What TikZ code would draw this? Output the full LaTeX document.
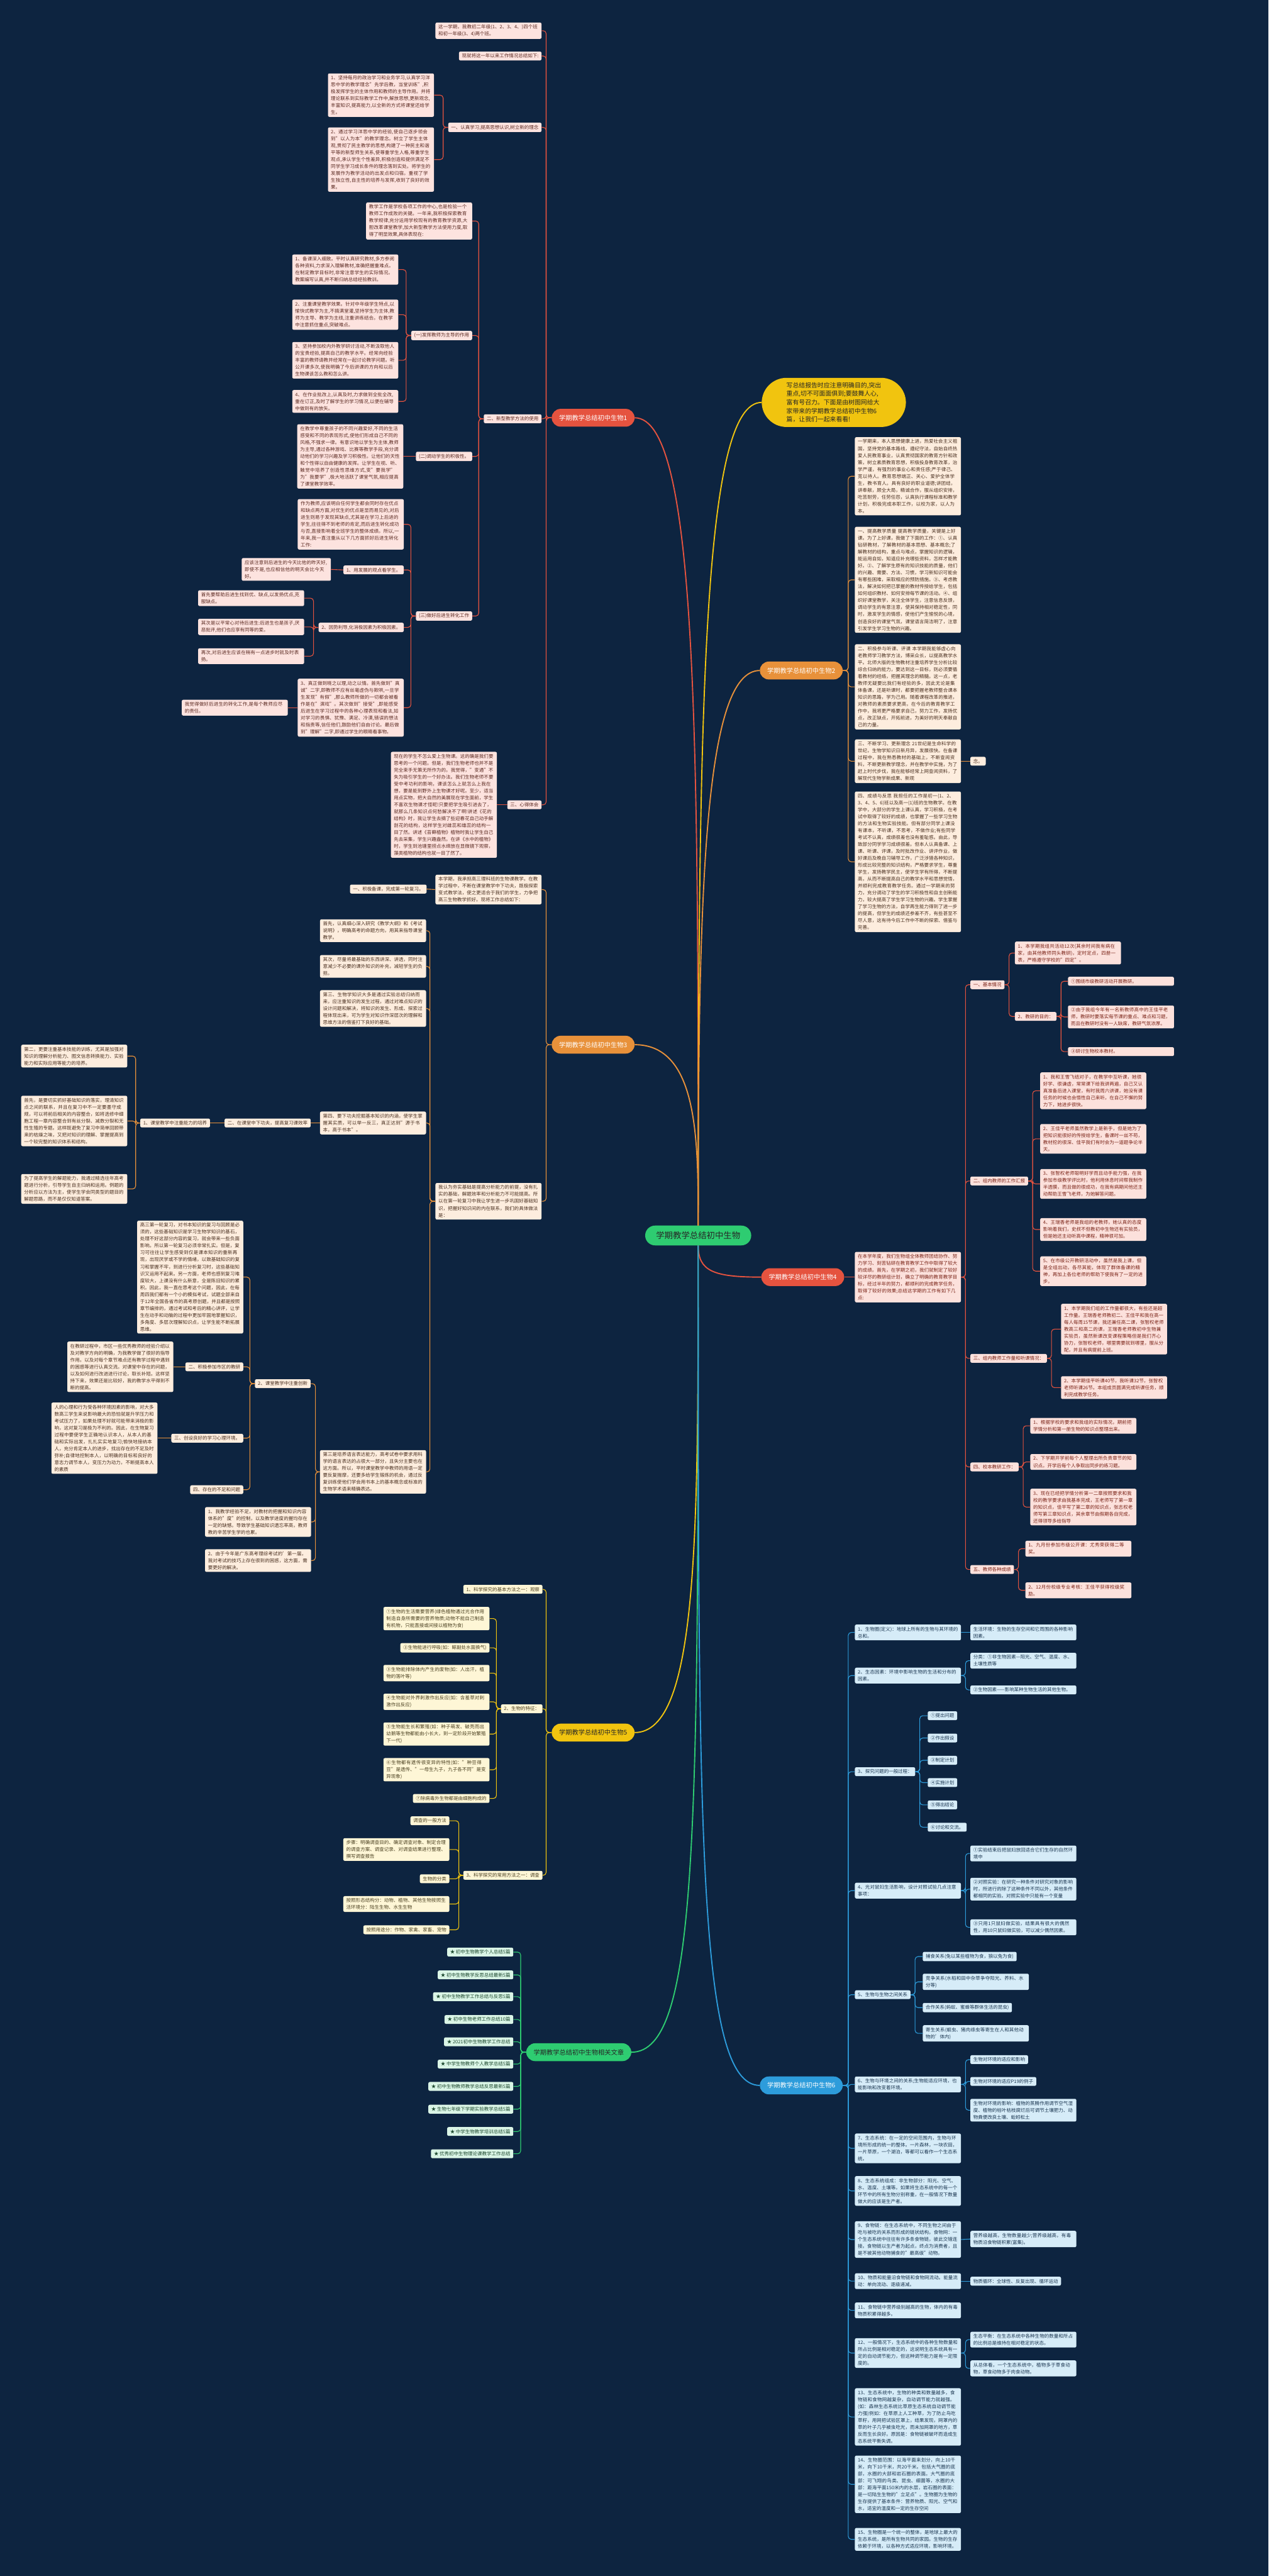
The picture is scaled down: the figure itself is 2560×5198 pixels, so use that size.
\documentclass[tikz,border=0pt]{standalone}
\usepackage{fontspec}
\setmainfont{Noto Sans CJK SC}
\XeTeXlinebreaklocale "zh"
\XeTeXlinebreakskip = 0pt plus 1pt
\definecolor{bg}{HTML}{0D2440}
\definecolor{cRed}{HTML}{E5533F}
\definecolor{cOra}{HTML}{E8913A}
\definecolor{cYel}{HTML}{F1C40F}
\definecolor{cBlu}{HTML}{2D9CDB}
\definecolor{cGrn}{HTML}{2ECC71}
\definecolor{fA}{HTML}{FDE3DF}\definecolor{tA}{HTML}{5B2A22}
\definecolor{fB}{HTML}{FDEDDE}\definecolor{tB}{HTML}{4A3020}
\definecolor{fC}{HTML}{FCE1DC}\definecolor{tC}{HTML}{7B2418}
\definecolor{fD}{HTML}{FEF6D6}\definecolor{tD}{HTML}{4A4020}
\definecolor{fE}{HTML}{D6ECF8}\definecolor{tE}{HTML}{1A3550}
\definecolor{fF}{HTML}{DAF5E6}\definecolor{tF}{HTML}{1E4A30}
\newcommand\myfs{\fontsize{9.5pt}{14pt}\selectfont}
\newcommand\pillfs{\fontsize{13pt}{16pt}\selectfont}
\newcommand\cenfs{\fontsize{17pt}{20pt}\selectfont}
\newcommand\intfs{\fontsize{12.5pt}{17.3pt}\selectfont}
\tikzset{
 nd/.style={rounded corners=3pt, inner xsep=6pt, inner ysep=4.5pt, font=\myfs, align=left},
 w/.style={text width=202pt},
 A/.style={nd, fill=fA, text=tA},
 B/.style={nd, fill=fB, text=tB},
 C/.style={nd, fill=fC, text=tC},
 D/.style={nd, fill=fD, text=tD},
 E/.style={nd, fill=fE, text=tE},
 F/.style={nd, fill=fF, text=tF},
 pill/.style={rounded corners=18pt, minimum height=36pt, inner xsep=15pt, font=\pillfs},
 lR/.style={draw=cRed, line width=1.4pt, rounded corners=6pt},
 lO/.style={draw=cOra, line width=1.4pt, rounded corners=6pt},
 lY/.style={draw=cYel, line width=1.4pt, rounded corners=6pt},
 lB/.style={draw=cBlu, line width=1.4pt, rounded corners=6pt},
 lG/.style={draw=cGrn, line width=1.4pt, rounded corners=6pt},
}
\begin{document}
\begin{tikzpicture}[x=1pt,y=-1pt]
\fill[bg] (0,0) rectangle (2560,5198);
\useasboundingbox (0,0) rectangle (2560,5198);

% ---------- center and branch labels ----------
\node[fill=cGrn, rounded corners=20pt, minimum width=214pt, minimum height=40pt, font=\cenfs, text=black!85] (c) at (1409,2493) {学期教学总结初中生物};
\node[fill=cYel, rounded corners=50pt, inner xsep=50pt, inner ysep=9pt, font=\intfs, text=black!85, align=left, anchor=west] (intro) at (1537,812)
 {写总结报告时应注意明确目的,突出\\重点,切不可面面俱到;要鼓舞人心,\\富有号召力。下面是由树图网给大\\家带来的学期教学总结初中生物6\\篇，让我们一起来看看!};
\node[pill, fill=cRed, text=white] (b1) at (1197,843) {学期教学总结初中生物1};
\node[pill, fill=cOra, text=white] (b2) at (1617,1353) {学期教学总结初中生物2};
\node[pill, fill=cOra, text=white] (b3) at (1197,2108) {学期教学总结初中生物3};
\node[pill, fill=cRed, text=white] (b4) at (1620,2577) {学期教学总结初中生物4};
\node[pill, fill=cYel, text=black!85] (b5) at (1197,3496) {学期教学总结初中生物5};
\node[pill, fill=cBlu, text=white] (b6) at (1617,4208) {学期教学总结初中生物6};
\node[pill, fill=cGrn, text=black!85] (b7) at (1168,4141) {学期教学总结初中生物相关文章};

\draw[cRed, line width=2.4pt] (c.north) .. controls (1409,1500) and (1409,843) .. (b1.east);
\draw[cYel, line width=2.4pt] (c.north) .. controls (1409,1400) and (1420,812) .. (intro.west);
\draw[cOra, line width=2.4pt] (c.north) .. controls (1409,1800) and (1420,1353) .. (b2.west);
\draw[cOra, line width=2.4pt] (c.north) .. controls (1409,2300) and (1409,2108) .. (b3.east);
\draw[cRed, line width=2.4pt] (c.south) .. controls (1409,2565) and (1440,2577) .. (b4.west);
\draw[cYel, line width=2.4pt] (c.south) .. controls (1409,3100) and (1409,3496) .. (b5.east);
\draw[cGrn, line width=2.4pt] (c.south) .. controls (1409,3700) and (1409,4141) .. (b7.east);
\draw[cBlu, line width=2.4pt] (c.south) .. controls (1409,3700) and (1409,4208) .. (b6.west);

% ---------- branch 1 ----------
\node[A,w,anchor=east] (a1) at (1093,62) {这一学期，我教初二年级(1、2、3、4、)四个班和初一年级(3、4)两个班。};
\node[A,anchor=east] (a2) at (1093,113) {现就将这一年以来工作情况总结如下:};
\node[A,anchor=east] (a3) at (1093,257) {一、认真学习,提高思想认识,树立新的理念};
\node[A,anchor=east] (a4) at (1093,845) {二、新型教学方法的使用};
\node[A,anchor=east] (a5) at (1093,1624) {三、心得体会};
\foreach \n in {a1,a2,a3,a4,a5} \draw[lR] (b1.west) -- ++(-11,0) |- (\n.east);

\node[A,w,anchor=east] (a31) at (876,192) {1、坚持每月的政治学习和业务学习,认真学习洋思中学的教学理念"先学后教，当堂训练",积极发挥学生的主体作用和教师的主导作用。并将理论联系到实际教学工作中,解放思想,更新观念,丰富知识,提高能力,以全新的方式将课堂还给学生。};
\node[A,w,anchor=east] (a32) at (876,322) {2、通过学习洋思中学的经验,使自己逐步领会到"以人为本"的教学理念。树立了学生主体观,贯彻了民主教学的思想,构建了一种民主和谐平等的新型师生关系,使尊重学生人格,尊重学生观点,承认学生个性差异,积极创造和提供满足不同学生学习成长条件的理念落到实处。将学生的发展作为教学活动的出发点和归宿。重视了学生独立性,自主性的培养与发挥,收到了良好的效果。};
\foreach \n in {a31,a32} \draw[lR] (a3.west) -- ++(-10,0) |- (\n.east);

\node[A,w,anchor=east] (a41) at (953,446) {教学工作是学校各项工作的中心,也是检验一个教师工作成败的关键。一年来,我积极探索教育教学规律,充分运用学校现有的教育教学资源,大胆改革课堂教学,加大新型教学方法使用力度,取得了明显效果,具体表现在:};
\node[A,anchor=east] (a42) at (953,677) {(一)发挥教师为主导的作用};
\node[A,anchor=east] (a43) at (953,921) {(二)调动学生的积极性。};
\node[A,anchor=east] (a44) at (953,1243) {(三)做好后进生转化工作};
\foreach \n in {a41,a42,a43,a44} \draw[lR] (a4.west) -- ++(-10,0) |- (\n.east);

\node[A,w,anchor=east] (a421) at (804,544) {1、备课深入细致。平时认真研究教材,多方参阅各种资料,力求深入理解教材,准确把握重难点。在制定教学目标时,非常注意学生的实际情况。教案编写认真,并不断归纳总结经验教训。};
\node[A,w,anchor=east] (a422) at (804,635) {2、注重课堂教学效果。针对中年级学生特点,以愉快式教学为主,不搞满堂灌,坚持学生为主体,教师为主导、教学为主线,注重讲练结合。在教学中注意抓住重点,突破难点。};
\node[A,w,anchor=east] (a423) at (804,727) {3、坚持参加校内外教学研讨活动,不断汲取他人的宝贵经验,提高自己的教学水平。经常向经验丰富的教师请教并经常在一起讨论教学问题。听公开课多次,使我明确了今后讲课的方向和以后生物课该怎么教和怎么讲。};
\node[A,w,anchor=east] (a424) at (804,810) {4、在作业批改上,认真及时,力求做到全批全改,重在订正,及时了解学生的学习情况,以便在辅导中做到有的放矢。};
\foreach \n in {a421,a422,a423,a424} \draw[lR] (a42.west) -- ++(-10,0) |- (\n.east);

\node[A,w,anchor=east] (a431) at (814,921) {在教学中尊重孩子的不同兴趣爱好,不同的生活感受和不同的表现形式,使他们形成自己不同的风格,不强求一律。有意识地以学生为主体,教师为主导,通过各种游戏、比赛等教学手段,充分调动他们的学习兴趣及学习积极性。让他们的天性和个性得以自由健康的发挥。让学生在视、听、触觉中培养了创造性思维方式,变"要我学"为"我要学",极大地活跃了课堂气氛,相应提高了课堂教学效率。};
\draw[lR] (a43.west) -- (a431.east);

\node[A,w,anchor=east] (a441) at (815,1058) {作为教师,应该明白任何学生都会同时存在优点和缺点两方面,对优生的优点是显而易见的,对后进生则易于发现其缺点,尤其是在学习上后进的学生,往往得不到老师的肯定,而后进生转化成功与否,直接影响着全班学生的整体成绩。所以,一年来,我一直注重从以下几方面抓好后进生转化工作:};
\node[A,anchor=east] (a442) at (815,1150) {1、用发展的观点看学生。};
\node[A,anchor=east] (a443) at (815,1266) {2、因势利导,化消极因素为积极因素。};
\node[A,w,anchor=east] (a444) at (815,1428) {3、真正做到晓之以理,动之以情。首先做到"真诚"二字,即教师不应有丝毫虚伪与欺哄,一旦学生发现"有假",那么教师所做的一切都会被看作是在"演戏"。其次做到"接受",即能感受后进生在学习过程中的各种心理表现和看法,如对学习的畏惧、犹豫、满足、冷漠,错误的想法和指责等,信任他们,鼓励他们自由讨论。最后做到"理解"二字,即通过学生的眼睛看事物。};
\foreach \n in {a441,a442,a443,a444} \draw[lR] (a44.west) -- ++(-10,0) |- (\n.east);

\node[A,text width=168pt,anchor=east] (a4421) at (668,1149) {应该注意到后进生的今天比他的昨天好,即使不是,也应相信他的明天会比今天好。};
\draw[lR] (a442.west) -- (a4421.east);
\node[A,w,anchor=east] (a4431) at (614,1207) {首先要帮助后进生找到优、缺点,以发扬优点,克服缺点。};
\node[A,w,anchor=east] (a4432) at (614,1265) {其次是以平常心对待后进生:后进生也是孩子,厌恶批评,他们也应享有同等的爱。};
\node[A,w,anchor=east] (a4433) at (614,1324) {再次,对后进生应该在稍有一点进步时就及时表扬。};
\foreach \n in {a4431,a4432,a4433} \draw[lR] (a443.west) -- ++(-10,0) |- (\n.east);
\node[A,w,anchor=east] (a4441) at (581,1428) {我觉得做好后进生的转化工作,是每个教师应尽的责任。};
\draw[lR] (a444.west) -- (a4441.east);

\node[A,w,anchor=east] (a51) at (1003,1624) {现在的学生不怎么爱上生物课。这的确是我们要思考的一个问题。但是，我们生物老师也并不是完全束手无策无所作为的。我觉得，"变通"不失为吸引学生的一个好办法。我们生物老师不要受中考功利的影响，课该怎么上就怎么上我在想，要是能到野外上生物课才好呢。至少，适当用点实物，把大自然的美展现在学生面前，学生不喜欢生物课才怪呢!只要把学生吸引进去了，就那么几条知识点何愁解决不了啊!讲述《花的结构》时，我让学生去摘了些迎春花自己动手解剖花的结构，这样学生对雌蕊和雄蕊的结构一目了然。讲述《苔藓植物》植物时我让学生自己先去采集，学生兴趣盎然。在讲《水中的植物》时，学生到池塘里捞点水绵放在显微镜下观察，藻类植物的结构也就一目了然了。};
\draw[lR] (a5.west) -- (a51.east);

% ---------- branch 2 ----------
\node[B,w,anchor=west] (g1) at (1725,961) {一学期来，本人思想健康上进，热爱社会主义祖国，坚持党的基本路线，遵纪守法，自始自终热爱人民教育事业，认真贯彻国家的教育方针和政策，树立素质教育思想，积极投身教育改革，治学严谨，有强烈的事业心和责任感;严于律己、宽以待人。教育思想端正、关心、爱护全体学生，教书育人。具有良好的职业道德;讲团结，讲奉献，顾全大局，精诚合作，服从组织安排，吃苦耐劳，任劳任怨，认真执行课程标准和教学计划，积极完成本职工作，以校为家，以人为本。};
\node[B,w,anchor=west] (g2) at (1725,1170) {一、提高教学质量 提高教学质量，关键是上好课。为了上好课，我做了下面的工作：①、认真钻研教材，了解教材的基本思想、基本概念;了解教材的结构，重点与难点，掌握知识的逻辑，能运用自如，知道应补充哪些资料，怎样才能教好。②、了解学生原有的知识技能的质量，他们的兴趣、需要、方法、习惯，学习新知识可能会有哪些困难，采取相应的预防措施。③、考虑教法，解决如何把已掌握的教材传授给学生，包括如何组织教材、如何安排每节课的活动。④、组织好课堂教学，关注全体学生，注意信息反馈，调动学生的有意注意，使其保持相对稳定性，同时，激发学生的情感，使他们产生愉悦的心境，创造良好的课堂气氛，课堂语言简洁明了，注意引发学生学习生物的兴趣。};
\node[B,w,anchor=west] (g3) at (1725,1386) {二、积极参与听课、评课 本学期我能够虚心向老教师学习教学方法，博采众长，以提高教学水平。北师大版的生物教材注重培养学生分析比较综合归纳的能力，要达到这一目标，则必须要循着教材的经络，把握其理念的精髓。这一点，老教师无疑要比我们有经验的多，因此无论是集体备课，还是听课时，都要把握老教师整合课本知识的思路，学为己用。随着课程改革的推进，对教师的素质要求更高，在今后的教育教学工作中，我将更严格要求自己，努力工作，发扬优点，改正缺点，开拓前进，为美好的明天奉献自己的力量。};
\node[B,w,anchor=west] (g4) at (1725,1536) {三、不断学习、更新理念 21世纪是生命科学的世纪，生物学知识日新月异，发展很快。在备课过程中，我在熟悉教材的基础上，不断查阅资料，不断更新教学理念，并在教学中实施，为了赶上时代步伐，我在能够经常上网查阅资料，了解现代生物学新成果、新观};
\node[B,w,anchor=west] (g5) at (1725,1739) {四、成绩与反思 我担任的工作是初一(1、2、3、4、5、6)班以及高一(1)班的生物教学。在教学中，大部分的学生上课认真，学习积极，在考试中取得了较好的成绩，也掌握了一些学习生物的方法和生物实验技能。但有部分同学上课没有课本，不听课，不思考，不做作业;有些同学考试不认真，成绩很差也没有羞耻感。由此，导致部分同学学习成绩很差。但本人认真备课、上课、听课、评课，及时批改作业、讲评作业，做好课后及晚自习辅导工作，广泛涉猎各种知识，形成比较完整的知识结构，严格要求学生，尊重学生，发扬教学民主，使学生学有所得，不断提高，从而不断提高自己的教学水平和思想觉悟，并顺利完成教育教学任务。通过一学期来的努力，充分调动了学生的学习积极性和自主创新能力，较大提高了学生学习生物的兴趣。学生掌握了学习生物的方法，自学再生能力得到了进一步的提高，但学生的成绩还参差不齐，有些甚至不尽人意，这有待今后工作中不断的探索、借鉴与完善。};
\foreach \n in {g1,g2,g3,g4,g5} \draw[lO] (b2.east) -- ++(11,0) |- (\n.west);
\node[B,anchor=west] (g41) at (1958,1536) {念。};
\draw[lO] (g4.east) -- (g41.west);

% ---------- branch 3 ----------
\node[B,w,anchor=east] (h1) at (1093,1795) {本学期，我承担高三理科班的生物课教学。在教学过程中，不断在课堂教学中下功夫，既极探索变式教学法，使之更适合于我们的学生，力争把高三生物教学抓好。现将工作总结如下：};
\node[B,w,anchor=east] (h2) at (1093,2424) {我认为夯实基础是提高分析能力的前提，没有扎实的基础，解题效率和分析能力不可能提高。所以在第一轮复习中我让学生进一步巩固好基础知识，把握好知识间的内在联系，我们的具体做法是：};
\foreach \n in {h1,h2} \draw[lO] (b3.west) -- ++(-11,0) |- (\n.east);
\node[B,anchor=east] (h11) at (861,1794) {一、积极备课，完成第一轮复习。};
\draw[lO] (h1.west) -- (h11.east);

\node[B,w,anchor=east] (h21) at (860,1878) {首先，认真细心深入研究《教学大纲》和《考试说明》，明确高考的命题方向，用其来指导课堂教学。};
\node[B,w,anchor=east] (h22) at (860,1950) {其次，尽量将最基础的东西讲深、讲透，同时注意减少不必要的课外知识的补充，减轻学生的负担。};
\node[B,w,anchor=east] (h23) at (860,2035) {第三、生物学知识大多是通过实验总结归纳而来，应注重知识的发生过程，通过对难点知识的设计问题和解决，将知识的发生、形成、探索过程体现出来，可为学生对知识作深层次的理解和思维方法的借鉴打下良好的基础。};
\node[B,w,anchor=east] (h24) at (860,2266) {第四、要下功夫挖掘基本知识的内涵，使学生掌握其实质，可以举一反三，真正达到"源于书本，高于书本"。};
\node[B,w,anchor=east] (h25) at (860,2970) {第三是培养语言表达能力，高考试卷中要求用科学的语言表达的占很大一部分，且失分主要也在这方面。所以，平时课堂教学中教师的用语一定要反复揣摩，还要多给学生锻炼的机会，通过反复训练使他们学会用书本上的基本概念或标准的生物学术语来精确表达。};
\foreach \n in {h21,h22,h23,h24,h25} \draw[lO] (h2.west) -- ++(-11,0) |- (\n.east);

\node[B,anchor=east] (h241) at (627,2266) {二、在课堂中下功夫，提高复习课效率};
\draw[lO] (h24.west) -- (h241.east);
\node[B,anchor=east] (h242) at (424,2266) {1、课堂教学中注重能力的培养};
\draw[lO] (h241.west) -- (h242.east);
\node[B,w,anchor=east] (h2421) at (257,2131) {第二，更要注重基本技能的训练，尤其是加强对知识的理解分析能力、图文信息转换能力、实验能力和实际应用等能力的培养。};
\node[B,w,anchor=east] (h2422) at (257,2262) {首先，是要切实抓好基础知识的落实，理清知识点之间的联系，并且在复习中不一定要墨守成规，可以将前后相关的内容整合，如将选修中细胞工程一章内容整合到有丝分裂、减数分裂和无性生殖的专题。这样既避免了复习中简单回顾带来的枯燥之味，又把对知识的理解、掌握提高到一个较完整的知识体系和结构。};
\node[B,w,anchor=east] (h2423) at (257,2399) {为了提高学生的解题能力，我通过精选往年高考题进行分析，引导学生自主归纳和运用。例题的分析应以方法为主，使学生学会同类型的题目的解题思路，而不是仅仅知道答案。};
\foreach \n in {h2421,h2422,h2423} \draw[lO] (h242.west) -- ++(-9,0) |- (\n.east);

\node[B,anchor=east] (h251) at (627,2792) {2、课堂教学中注重创新};
\node[B,w,anchor=east] (h252) at (628,3071) {1、我教学经验不足，对教材的把握和知识内容体系的"度"的控制，以及教学进度的握均存在一定的缺憾。导致学生基础知识遗忘率高，教师教的辛苦学生学的也累。};
\node[B,w,anchor=east] (h253) at (628,3149) {2、由于今年是广东高考理综考试的'第一届，我对考试的技巧上存在很到的困惑，这方面，需要更好的解决。};
\foreach \n in {h251,h252,h253} \draw[lO] (h25.west) -- ++(-9,0) |- (\n.east);

\node[B,w,anchor=east] (h2511) at (491,2577) {高三第一轮复习，对书本知识的复习与回顾是必须的，这些基础知识是学习生物学知识的基石，处理不好这部分内容的复习，就会带来一些负面影响。所以第一轮复习必须非常扎实。但是，复习可往往让学生感受到仅是课本知识的重新再现，出现厌学或不学的情绪，以致基础知识的复习和掌握不牢，到进行分析复习时，这些基础知识又运用不起来。另一方面，老师也感到复习难度较大，上课没有什么新意，全是陈旧知识的累积。因此，我一直在思考这个问题，因此，在每周四我们都有一个小的模拟考试，试题全部来自于12年全国各省市的高考原创题，并且都是按照章节编排的，通过考试和考后的精心讲评，让学生在动手和动脑的过程中更加牢固地掌握知识，多角度、多层次理解知识点，让学生能不断拓展思维。};
\node[B,anchor=east] (h2512) at (491,2758) {二、积极参加市区的教研};
\node[B,anchor=east] (h2513) at (491,2902) {三、创设良好的学习心理环境。};
\node[B,anchor=east] (h2514) at (491,3006) {四、存在的不足和问题};
\foreach \n in {h2511,h2512,h2513,h2514} \draw[lO] (h251.west) -- ++(-10,0) |- (\n.east);
\node[B,w,anchor=east] (h25121) at (350,2758) {在教研过程中，市区一些优秀教师的经验介绍以及对教学方向的明确，为我教学做了很好的指导作用。以及对每个章节难点还有教学过程中遇到的困惑等进行认真交流。对课堂中存在的问题，以及如何进行改进进行讨论，取长补短。这样坚持下来，效果还是比较好，我的教学水平得到不断的提高。};
\draw[lO] (h2512.west) -- (h25121.east);
\node[B,w,anchor=east] (h25131) at (318,2902) {人的心理和行为受各种环境因素的影响，对大多数高三学生来说影响最大的恐怕就是升学压力和考试压力了，如果处理不好就可能带来消极的影响，这对复习是极为不利的。因此，在生物复习过程中要使学生正确地认识本人，从本人的基础和实际出发，扎扎实实地复习;愉快地接纳本人，充分肯定本人的进步，找出存在的不足及时弥补;自律地控制本人，以明确的目标和良好的意志力调节本人，变压力为动力，不断提高本人的素质};
\draw[lO] (h2513.west) -- (h25131.east);

% ---------- branch 4 ----------
\node[C,w,anchor=west] (d0) at (1725,2577) {在本学年度，我们生物组全体教师团结协作、努力学习、刻苦钻研在教育教学工作中取得了较大的成绩。首先，在学期之初，我们就制定了较好较详尽的教研组计划，确立了明确的教育教学目标，经过半年的努力，都顺利的完成教学任务，取得了较好的效果;总结这学期的工作有如下几点:};
\draw[lR] (b4.east) -- (d0.west);
\node[C,anchor=west] (d1) at (1958,1987) {一、基本情况};
\node[C,anchor=west] (d2) at (1958,2383) {二、组内教师的工作汇报};
\node[C,anchor=west] (d3) at (1958,2741) {三、组内教师工作量和听课情况：};
\node[C,anchor=west] (d4) at (1958,2960) {四、校本教研工作：};
\node[C,anchor=west] (d5) at (1958,3167) {五、教师各种成绩};
\foreach \n in {d1,d2,d3,d4,d5} \draw[lR] (d0.east) -- ++(9,0) |- (\n.west);

\node[C,w,anchor=west] (d11) at (2048,1923) {1、本学期我组共活动12次(其余时间我有病在家，由其他教师同头教研)，定时定点，四册一表，严格遵守学校的"四定"。};
\node[C,anchor=west] (d12) at (2048,2051) {2、教研的目的：};
\foreach \n in {d11,d12} \draw[lR] (d1.east) -- ++(9,0) |- (\n.west);
\node[C,w,anchor=west] (d121) at (2155,1980) {①围绕市级教研活动开展教研。};
\node[C,w,anchor=west] (d122) at (2155,2052) {②由于我组今年有一名新教师高中的王佳平老师，教研时要落实每节课的重点、难点和习题，而且在教研时没有一人缺席，教研气氛浓厚。};
\node[C,w,anchor=west] (d123) at (2155,2122) {③研讨生物校本教材。};
\foreach \n in {d121,d122,d123} \draw[lR] (d12.east) -- ++(9,0) |- (\n.west);

\node[C,w,anchor=west] (d21) at (2099,2201) {1、我和王雪飞结对子，在教学中互听课，她很好学、很谦虚，常常课下给我讲两遍，自己又认真准备后进入课堂，有时我周六讲课，她没有课任务的时候也会悟性自己来听，在自己不懈的努力下，她进步很快。};
\node[C,w,anchor=west] (d22) at (2099,2298) {2、王佳平老师虽然教学上是新手，但是她为了把知识能很好的传授给学生，备课时一丝不苟，教材挖的很深、佳平我们有时会为一道题争论半天。};
\node[C,w,anchor=west] (d23) at (2099,2389) {3、张智权老师聪明好学而且动手能力强，在我参加市级教学评比时，他利用休息时间帮我制作半透膜，而且做的很成功，在我有病期间他还主动帮助王雪飞老师，为她解答问题。};
\node[C,w,anchor=west] (d24) at (2099,2481) {4、王瑞香老师是我组的老教师，她认真的态度影响着我们，史叔不但教初中生物还有实验员，但是她还主动听高中课程，精神很可加。};
\node[C,w,anchor=west] (d25) at (2099,2565) {5、在市级公开教研活动中，虽然是我上课，但是全组出动，各尽其能，体现了群体备课的精神，再加上各位老师的帮助下使我有了一定的进步。};
\foreach \n in {d21,d22,d23,d24,d25} \draw[lR] (d2.east) -- ++(9,0) |- (\n.west);

\node[C,w,anchor=west] (d31) at (2141,2682) {1、本学期我们组的工作量都很大，有些还是超工作量。王瑞香老师教初二、王佳平和我在高一每人每周15节课，我还兼任高二课，张智权老师教高三和高二的课，王瑞香老师教初中生物兼实验员，虽然新课改变课程策略但是我们齐心协力，张智权老师，哪里需要就到哪里，服从分配，并且有病提前上班。};
\node[C,w,anchor=west] (d32) at (2141,2800) {2、本学期佳平听课40节，我听课32节，张智权老师听课26节。本组成员圆满完成听课任务，顺利完成教学任务。};
\foreach \n in {d31,d32} \draw[lR] (d3.east) -- ++(9,0) |- (\n.west);

\node[C,w,anchor=west] (d41) at (2079,2877) {1、根据学校的要求和我组的实际情况，期前把学情分析和第一册生物的知识点整理出来。};
\node[C,w,anchor=west] (d42) at (2079,2950) {2、下学期开学前每个人整理出所负责章节的知识点。开学后每个人争取出同步的练习题。};
\node[C,w,anchor=west] (d43) at (2079,3041) {3、现在已经把学情分析第一二章按照要求和我校的教学要求由我基本完成，王老师写了第一章的知识点，佳平写了第二章的知识点，张志权老师写第三章知识点，其余章节由假期各自完成，还得领导多给指导};
\foreach \n in {d41,d42,d43} \draw[lR] (d4.east) -- ++(9,0) |- (\n.west);

\node[C,w,anchor=west] (d51) at (2069,3125) {1、九月份参加市级公开课：尤秀荣获得二等奖。};
\node[C,w,anchor=west] (d52) at (2069,3209) {2、12月份校级专业考核：王佳平获得校级奖励。};
\foreach \n in {d51,d52} \draw[lR] (d5.east) -- ++(9,0) |- (\n.west);

% ---------- branch 5 ----------
\node[D,anchor=east] (e1) at (1095,3207) {1、科学探究的基本方法之一：观察};
\node[D,anchor=east] (e2) at (1095,3448) {2、生物的特征：};
\node[D,anchor=east] (e3) at (1095,3784) {3、科学探究的常用方法之一：调查};
\foreach \n in {e1,e2,e3} \draw[lY] (b5.west) -- ++(-11,0) |- (\n.east);
\node[D,w,anchor=east] (e21) at (988,3266) {①生物的生活需要营养(绿色植物通过光合作用制造自身所需要的营养物质;动物不能自己制造有机物，只能直接或间接以植物为食)};
\node[D,anchor=east] (e22) at (988,3325) {②生物能进行呼吸(如：鲸副处水面换气)};
\node[D,w,anchor=east] (e23) at (988,3376) {③生物能排除体内产生的废物(如：人出汗，植物的落叶等)};
\node[D,w,anchor=east] (e24) at (988,3434) {④生物能对外界刺激作出反应(如：含羞草对刺激作出反应)};
\node[D,w,anchor=east] (e25) at (988,3499) {⑤生物能生长和繁殖(如：种子萌发、破壳而出幼鹅等生物都能由小长大，到一定阶段开始繁殖下一代)};
\node[D,w,anchor=east] (e26) at (988,3571) {⑥生物都有遗传很变异的特性(如："种豆得豆"是遗传、"一母生九子，九子各不同"是变异现象)};
\node[D,anchor=east] (e27) at (988,3629) {⑦除病毒外生物都是由细胞构成的};
\foreach \n in {e21,e22,e23,e24,e25,e26,e27} \draw[lY] (e2.west) -- ++(-9,0) |- (\n.east);
\node[D,anchor=east] (e31) at (907,3674) {调查的一般方法};
\node[D,w,anchor=east] (e32) at (907,3732) {步骤：明确调查目的、确定调查对象、制定合理的调查方案、调查记录、对调查结果进行整理、撰写调查报告};
\node[D,anchor=east] (e33) at (907,3791) {生物的分类};
\node[D,w,anchor=east] (e34) at (907,3842) {按照形态结构分：动物、植物、其他生物按照生活环境分：陆生生物、水生生物};
\node[D,anchor=east] (e35) at (907,3894) {按照用途分：作物、家禽、家畜、宠物};
\foreach \n in {e31,e32,e33,e34,e35} \draw[lY] (e3.west) -- ++(-9,0) |- (\n.east);

% ---------- branch 7 ----------
\node[F,anchor=east] (k1) at (1036,3939) {★ 初中生物教学个人总结5篇};
\node[F,anchor=east] (k2) at (1036,3985) {★ 初中生物教学反思总结最新5篇};
\node[F,anchor=east] (k3) at (1036,4029) {★ 初中生物教学工作总结与反思5篇};
\node[F,anchor=east] (k4) at (1036,4075) {★ 初中生物老师工作总结10篇};
\node[F,anchor=east] (k5) at (1036,4120) {★ 2021初中生物教学工作总结};
\node[F,anchor=east] (k6) at (1036,4165) {★ 中学生物教师个人教学总结5篇};
\node[F,anchor=east] (k7) at (1036,4210) {★ 初中生物教师教学总结反思最新5篇};
\node[F,anchor=east] (k8) at (1036,4256) {★ 生物七年级下学期实验教学总结5篇};
\node[F,anchor=east] (k9) at (1036,4301) {★ 中学生物教学培训总结5篇};
\node[F,anchor=east] (k10) at (1036,4346) {★ 优秀初中生物理论课教学工作总结};
\foreach \n in {k1,k2,k3,k4,k5,k6,k7,k8,k9,k10} \draw[lG] (b7.west) -- ++(-11,0) |- (\n.east);

% ---------- branch 6 ----------
\node[E,w,anchor=west] (f1) at (1725,3294) {1、生物圈(定义)：地球上所有的生物与其环境的总和。};
\node[E,w,anchor=west] (f2) at (1725,3381) {2、生态因素：环境中影响生物的生活和分布的因素。};
\node[E,anchor=west] (f3) at (1725,3575) {3、探究问题的一般过程：};
\node[E,w,anchor=west] (f4) at (1725,3815) {4、光对鼠妇生活影响，设计对照试验几点注意事项：};
\node[E,anchor=west] (f5) at (1725,4025) {5、生物与生物之间关系};
\node[E,w,anchor=west] (f6) at (1725,4206) {6、生物与环境之间的关系;生物能适应环境，也能影响和改变着环境。};
\node[E,w,anchor=west] (f7) at (1725,4335) {7、生态系统：在一定的空间范围内，生物与环境所形成的统一的整体。一片森林，一块农田，一片草原，一个湖泊，等都可以看作一个生态系统。};
\node[E,w,anchor=west] (f8) at (1725,4421) {8、生态系统组成：非生物部分：阳光、空气、水、温度、土壤等。如果将生态系统中的每一个环节中的所有生物分别称重，在一般情况下数量做大的应该是生产者。};
\node[E,w,anchor=west] (f9) at (1725,4519) {9、食物链：在生态系统中，不同生物之间由于吃与被吃的关系而形成的链状结构。食物网：一个生态系统中往往有许多条食物链，彼此交错连接。食物链以生产者为起点，终点为消费者，且是不被其他动物捕食的"最高级"动物。};
\node[E,w,anchor=west] (f10) at (1725,4603) {10、物质和能量沿食物链和食物网流动。能量流动：单向流动、逐级递减。};
\node[E,w,anchor=west] (f11) at (1725,4662) {11、食物链中营养级别越高的生物，体内的有毒物质积累得越多。};
\node[E,w,anchor=west] (f12) at (1725,4748) {12、一般情况下，生态系统中的各种生物数量和所占比例是相对稳定的，这说明生态系统具有一定的自动调节能力，但这种调节能力是有一定限度的。};
\node[E,w,anchor=west] (f13) at (1725,4877) {13、生态系统中，生物的种类和数量越多，食物链和食物网越复杂，自动调节能力就越强。(如：森林生态系统比草原生态系统自动调节能力强)例如：在草原上人工种草，为了防止鸟吃草籽，用网把试验区罩上，结果发现，网罩内的草的叶子几乎被虫吃光，而未加网罩的地方，草反而生长良好。原因是：食物链被破坏而造成生态系统平衡失调。};
\node[E,w,anchor=west] (f14) at (1725,5013) {14、生物圈范围：以海平面来划分，向上10千米，向下10千米，共20千米。包括大气圈的底部，水圈的大部和岩石圈的表面。大气圈的底部：可飞翔的鸟类、昆虫、细菌等，水圈的大部：距海平面150米内的水层，岩石圈的表面：是一切陆生生物的"立足点"。生物圈为生物的生存提供了基本条件：营养物质、阳光、空气和水，适宜的温度和一定的生存空间};
\node[E,w,anchor=west] (f15) at (1725,5124) {15、生物圈是一个统一的整体，是地球上最大的生态系统，是所有生物共同的家园。生物的生存依赖于环境，以各种方式适应环境，影响环境。};
\foreach \n in {f1,f2,f3,f4,f5,f6,f7,f8,f9,f10,f11,f12,f13,f14,f15} \draw[lB] (b6.east) -- ++(11,0) |- (\n.west);

\node[E,w,anchor=west] (f1a) at (1958,3294) {生活环境：生物的生存空间和它周围的各种影响因素。};
\draw[lB] (f1.east) -- (f1a.west);
\node[E,w,anchor=west] (f2a) at (1958,3351) {分类：①非生物因素—阳光、空气、温度、水、土壤性质等};
\node[E,w,anchor=west] (f2b) at (1958,3410) {②生物因素——影响某种生物生活的其他生物。};
\foreach \n in {f2a,f2b} \draw[lB] (f2.east) -- ++(9,0) |- (\n.west);
\node[E,anchor=west] (f3a) at (1872,3462) {①提出问题};
\node[E,anchor=west] (f3b) at (1872,3507) {②作出假设};
\node[E,anchor=west] (f3c) at (1872,3552) {③制定计划};
\node[E,anchor=west] (f3d) at (1872,3597) {④实施计划};
\node[E,anchor=west] (f3e) at (1872,3642) {⑤得出结论};
\node[E,anchor=west] (f3f) at (1872,3687) {⑥讨论和交流。};
\foreach \n in {f3a,f3b,f3c,f3d,f3e,f3f} \draw[lB] (f3.east) -- ++(9,0) |- (\n.west);
\node[E,w,anchor=west] (f4a) at (1958,3740) {①实验结束后把鼠妇放回适合它们生存的自然环境中};
\node[E,w,anchor=west] (f4b) at (1958,3812) {②对照实验：在研究一种条件对研究对象的影响时，所进行的除了这种条件不同以外，其他条件都相同的实验。对照实验中只能有一个变量};
\node[E,w,anchor=west] (f4c) at (1958,3889) {③只用1只鼠妇做实验，结果具有很大的偶然性，用10只鼠妇做实验，可以减少偶然因素。};
\foreach \n in {f4a,f4b,f4c} \draw[lB] (f4.east) -- ++(9,0) |- (\n.west);
\node[E,anchor=west] (f5a) at (1862,3948) {捕食关系(兔以某些植物为食，狼以兔为食)};
\node[E,w,anchor=west] (f5b) at (1862,3999) {竞争关系(水稻和田中杂草争夺阳光、养料、水分等)};
\node[E,anchor=west] (f5c) at (1862,4051) {合作关系(蚂蚁、蜜蜂等群体生活的昆虫)};
\node[E,w,anchor=west] (f5d) at (1862,4103) {寄生关系(蛔虫、猪肉绦虫等寄生在人和其他动物的'体内)};
\foreach \n in {f5a,f5b,f5c,f5d} \draw[lB] (f5.east) -- ++(9,0) |- (\n.west);
\node[E,anchor=west] (f6a) at (1958,4156) {生物对环境的适应和影响};
\node[E,anchor=west] (f6b) at (1958,4200) {生物对环境的适应P19的例子};
\node[E,w,anchor=west] (f6c) at (1958,4258) {生物对环境的影响：植物的蒸腾作用调节空气湿度、植物的枯叶枯枝腐烂后可调节土壤肥力、动物粪便改良土壤、蚯蚓松土};
\foreach \n in {f6a,f6b,f6c} \draw[lB] (f6.east) -- ++(9,0) |- (\n.west);
\node[E,w,anchor=west] (f9a) at (1958,4518) {营养级越高，生物数量越少;营养级越高，有毒物质沿食物链积累(富集)。};
\draw[lB] (f9.east) -- (f9a.west);
\node[E,anchor=west] (f10a) at (1958,4603) {物质循环：全球性、反复出现、循环运动};
\draw[lB] (f10.east) -- (f10a.west);
\node[E,w,anchor=west] (f12a) at (1958,4721) {生态平衡：在生态系统中各种生物的数量和所占的比例总是维持在相对稳定的状态。};
\node[E,w,anchor=west] (f12b) at (1958,4779) {从总体看，一个生态系统中，植物多于草食动物，草食动物多于肉食动物。};
\foreach \n in {f12a,f12b} \draw[lB] (f12.east) -- ++(9,0) |- (\n.west);
\end{tikzpicture}
\end{document}
